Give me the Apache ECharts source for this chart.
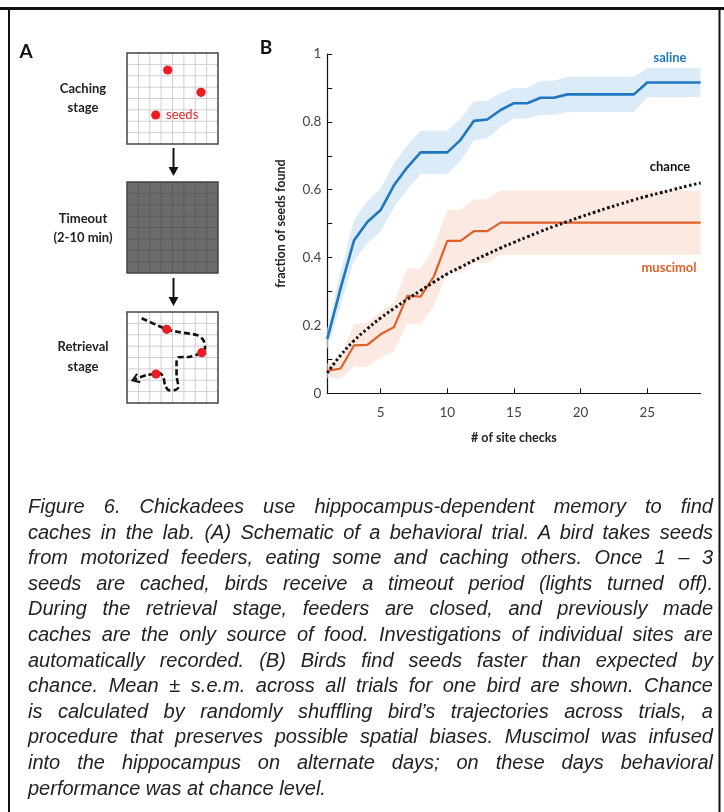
<!DOCTYPE html>
<html>
<head>
<meta charset="utf-8">
<script src="https://cdn.jsdelivr.net/npm/echarts@6/dist/echarts.min.js"></script>
<style>
  html, body { margin: 0; padding: 0; background: #fff; }
  #wrap { position: relative; width: 724px; height: 812px; overflow: hidden; }
  #chart { position: absolute; left: 0; top: 0; width: 724px; height: 812px; }
  #caption {
    position: absolute; left: 28px; top: 494px; width: 685px;
    font-family: "Liberation Sans", Arial, sans-serif;
    font-style: italic; font-size: 20px; line-height: 25.6px; color: #222;
  }
  #caption div { white-space: nowrap; text-align: justify; text-align-last: justify; }
  #caption div.last { text-align-last: left; }
</style>
</head>
<body>
<div id="wrap">
  <div id="chart"></div>
  <div id="caption">
    <div>Figure 6. Chickadees use hippocampus-dependent memory to find</div>
    <div>caches in the lab. (A) Schematic of a behavioral trial. A bird takes seeds</div>
    <div>from motorized feeders, eating some and caching others. Once 1 – 3</div>
    <div>seeds are cached, birds receive a timeout period (lights turned off).</div>
    <div>During the retrieval stage, feeders are closed, and previously made</div>
    <div>caches are the only source of food. Investigations of individual sites are</div>
    <div>automatically recorded. (B) Birds find seeds faster than expected by</div>
    <div>chance. Mean ± s.e.m. across all trials for one bird are shown. Chance</div>
    <div>is calculated by randomly shuffling bird’s trajectories across trials, a</div>
    <div>procedure that preserves possible spatial biases. Muscimol was infused</div>
    <div>into the hippocampus on alternate days; on these days behavioral</div>
    <div class="last">performance was at chance level.</div>
  </div>
</div>
<script>
// ---- data ----
const checks = ['1','2','3','4','5','6','7','8','9','10','11','12','13','14','15','16','17','18','19','20','21','22','23','24','25','26','27','28','29'];
const saline = [0.16,0.31,0.45,0.505,0.54,0.613,0.666,0.71,0.71,0.71,0.747,0.803,0.807,0.835,0.855,0.855,0.871,0.871,0.881,0.881,0.881,0.881,0.881,0.881,0.916,0.916,0.916,0.916,0.916];
const salineSem = [0.03,0.05,0.06,0.062,0.063,0.065,0.065,0.064,0.064,0.064,0.062,0.058,0.055,0.05,0.045,0.045,0.05,0.05,0.052,0.052,0.052,0.052,0.052,0.052,0.043,0.043,0.043,0.043,0.043];
const muscimol = [0.066,0.073,0.141,0.143,0.174,0.195,0.287,0.285,0.345,0.449,0.449,0.478,0.478,0.503,0.503,0.503,0.503,0.503,0.503,0.503,0.503,0.503,0.503,0.503,0.503,0.503,0.503,0.503,0.503];
const muscimolSem = [0.022,0.03,0.063,0.065,0.068,0.072,0.082,0.082,0.088,0.093,0.093,0.094,0.094,0.095,0.095,0.095,0.095,0.095,0.095,0.095,0.095,0.095,0.095,0.095,0.095,0.095,0.095,0.095,0.095];
const chance = [0.06,0.112,0.155,0.19,0.222,0.25,0.277,0.303,0.328,0.352,0.372,0.392,0.41,0.428,0.445,0.461,0.477,0.492,0.506,0.52,0.533,0.546,0.558,0.57,0.581,0.591,0.601,0.611,0.62];
const xTickLabels = ['5','10','15','20','25'];
const yTickLabels = ['0','0.2','0.4','0.6','0.8','1'];

// ---- colours ----
const BLUE = '#1f77c0', BLUE_BAND = '#dbecf8';
const ORANGE = '#e0602a', ORANGE_BAND = '#fbe5dc';
const FONT = 'Lato, "Open Sans", sans-serif';

// ---- panel A schematic graphics ----
const g = [];
g.push({type:'rect', shape:{x:0,y:7,width:724,height:3}, style:{fill:'#111'}});
g.push({type:'rect', shape:{x:8,y:8,width:2,height:810}, style:{fill:'#111'}});
g.push({type:'rect', shape:{x:718.5,y:8,width:2,height:810}, style:{fill:'#111'}});

function boxGrid(x0, y0, size, n, fill, lineColor, border) {
  g.push({type:'rect', shape:{x:x0,y:y0,width:size,height:size}, style:{fill:fill, stroke:null}});
  const step = size / n;
  for (let i = 1; i < n; i++) {
    g.push({type:'line', shape:{x1:x0+i*step,y1:y0,x2:x0+i*step,y2:y0+size}, style:{stroke:lineColor,lineWidth:1}});
    g.push({type:'line', shape:{x1:x0,y1:y0+i*step,x2:x0+size,y2:y0+i*step}, style:{stroke:lineColor,lineWidth:1}});
  }
  g.push({type:'rect', shape:{x:x0,y:y0,width:size,height:size}, style:{fill:null, stroke:border, lineWidth:1.5}});
}
function downArrow(x, y1, y2) {
  g.push({type:'line', shape:{x1:x,y1:y1,x2:x,y2:y2-7}, style:{stroke:'#111',lineWidth:2}});
  g.push({type:'polygon', shape:{points:[[x-5,y2-9],[x+5,y2-9],[x,y2]]}, style:{fill:'#111'}});
}
function dot(x, y) { g.push({type:'circle', shape:{cx:x,cy:y,r:4.6}, style:{fill:'#ec1c24'}, z:10}); }
function label(x, y, txt, opts) {
  g.push({type:'text', x:x, y:y, style:Object.assign({text:txt, font:'bold 13px '+FONT, fill:'#222', align:'center', verticalAlign:'middle'}, opts||{})});
}

label(26, 52, 'A', {font:'bold 19px '+FONT, fill:'#111'});
label(266, 48, 'B', {font:'bold 19px '+FONT, fill:'#111'});

boxGrid(127, 53, 91, 8, '#ffffff', '#cfcfcf', '#444');
dot(167.7, 70); dot(201, 92.3); dot(155.7, 115);
g.push({type:'text', x:166, y:115, style:{text:'seeds', font:'13px '+FONT, fill:'#e8262d', align:'left', verticalAlign:'middle'}});
label(83, 89, 'Caching'); label(83, 108, 'stage');

downArrow(173.5, 148, 176);
boxGrid(127, 182, 91, 8, '#6b6b6b', '#5c5c5c', '#444');
label(83, 219, 'Timeout'); label(83, 238, '(2-10 min)');

downArrow(173.5, 278, 306);
boxGrid(127, 312, 91, 8, '#ffffff', '#cfcfcf', '#444');
label(83, 347, 'Retrieval'); label(83, 367, 'stage');

const path = [[141.7,318.3],[166.7,329.3],[180,332.3],[196.7,335],[203.3,340],[205,348.3],[201.7,352.7],[190,356.7],[178.3,357.3],[176.7,360],[176.7,376.7],[178.3,387.3],[175,390],[168.3,390],[165,385],[163.3,376.7],[160,373.3],[156,374],[146.7,375],[134.5,379.5]];
g.push({type:'polyline', shape:{points:path, smooth:0.25}, style:{stroke:'#111', lineWidth:2.6, lineDash:[6,3], fill:null}, z:5});
(function(){
  const e = [132.5,380.3], p = [146.7,375];
  let dx = p[0]-e[0], dy = p[1]-e[1]; const L = Math.hypot(dx,dy); dx/=L; dy/=L;
  const a = 0.6, len = 8;
  const r1 = [e[0] + len*(dx*Math.cos(a) - dy*Math.sin(a)), e[1] + len*(dx*Math.sin(a) + dy*Math.cos(a))];
  const r2 = [e[0] + len*(dx*Math.cos(-a) - dy*Math.sin(-a)), e[1] + len*(dx*Math.sin(-a) + dy*Math.cos(-a))];
  g.push({type:'polyline', shape:{points:[r1,e,r2]}, style:{stroke:'#111', lineWidth:2, fill:null}, z:6});
})();
dot(166.7, 329.3); dot(201.7, 352.7); dot(156, 374);

// series labels
g.push({type:'text', x:670, y:58, style:{text:'saline', font:'bold 13px '+FONT, fill:BLUE, align:'center', verticalAlign:'middle'}});
g.push({type:'text', x:670, y:167, style:{text:'chance', font:'bold 13px '+FONT, fill:'#111', align:'center', verticalAlign:'middle'}});
g.push({type:'text', x:669, y:268, style:{text:'muscimol', font:'bold 13px '+FONT, fill:ORANGE, align:'center', verticalAlign:'middle'}});

// ---- band helpers ----
const lower = (m, s) => m.map((v, i) => +(v - s[i]).toFixed(4));
const width2 = (s) => s.map(v => +(2 * v).toFixed(4));

const chart = echarts.init(document.getElementById('chart'), null, {renderer:'canvas'});
chart.setOption({
  animation: false,
  backgroundColor: '#fff',
  grid: {left: 327.3, top: 54, right: 23.4, bottom: 418.7, containLabel: false},
  xAxis: {
    type: 'category', data: checks, boundaryGap: false,
    name: '# of site checks', nameLocation: 'middle', nameGap: 38,
    nameTextStyle: {fontFamily: FONT, fontWeight: 'bold', fontSize: 12.5, color: '#222'},
    axisLine: {lineStyle: {color: '#111', width: 1.2}},
    axisTick: {inside: true, length: 5, lineStyle: {color: '#111'}, interval: (i, v) => xTickLabels.indexOf(v) >= 0},
    axisLabel: {interval: (i, v) => xTickLabels.indexOf(v) >= 0, fontFamily: FONT, fontSize: 13.5, color: '#444', margin: 12},
    splitLine: {show: false}
  },
  yAxis: {
    type: 'value', min: 0, max: 1, interval: 0.1,
    name: 'fraction of seeds found', nameLocation: 'middle', nameGap: 40,
    nameTextStyle: {fontFamily: FONT, fontWeight: 'bold', fontSize: 12.5, color: '#222'},
    axisLine: {show: true, lineStyle: {color: '#111', width: 1.2}},
    axisTick: {show: true, inside: true, length: 5, lineStyle: {color: '#111'}},
    axisLabel: {
      fontFamily: FONT, fontSize: 13.5, color: '#444', margin: 6,
      formatter: (v) => { const s = String(+v.toFixed(1)); return yTickLabels.indexOf(s) >= 0 ? s : ''; }
    },
    splitLine: {show: false}
  },
  series: [
    {type:'line', stack:'sal', data: lower(saline, salineSem), symbol:'none', lineStyle:{width:0, opacity:0}, z:1, silent:true},
    {type:'line', stack:'sal', data: width2(salineSem), symbol:'none', lineStyle:{width:0, opacity:0}, areaStyle:{color:BLUE_BAND, opacity:1}, z:1, silent:true},
    {type:'line', stack:'mus', data: lower(muscimol, muscimolSem), symbol:'none', lineStyle:{width:0, opacity:0}, z:1, silent:true},
    {type:'line', stack:'mus', data: width2(muscimolSem), symbol:'none', lineStyle:{width:0, opacity:0}, areaStyle:{color:ORANGE_BAND, opacity:0.85}, z:1, silent:true},
    {type:'line', name:'saline', data: saline, symbol:'none', lineStyle:{color:BLUE, width:2.6}, z:3},
    {type:'line', name:'muscimol', data: muscimol, symbol:'none', lineStyle:{color:ORANGE, width:2.2}, z:3},
    {type:'line', name:'chance', data: chance, symbol:'none', smooth:true, lineStyle:{color:'#111', width:3, type:[2.5,2.5]}, z:4}
  ],
  graphic: {elements: g}
});
</script>
</body>
</html>
